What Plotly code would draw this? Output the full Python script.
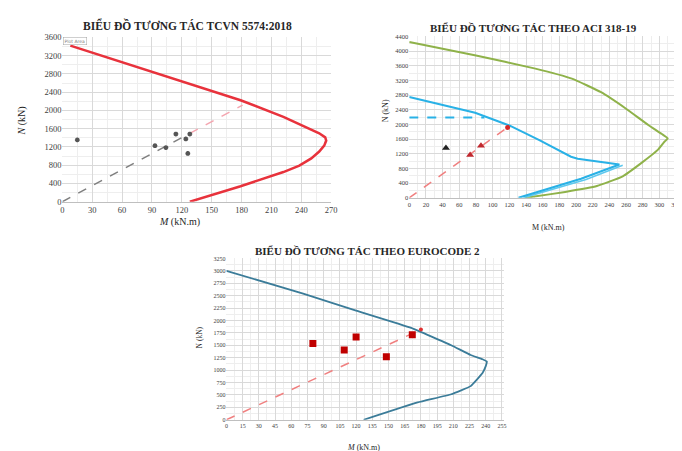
import plotly.graph_objects as go

W, H = 682, 451

# ---------------- Chart 1: TCVN 5574:2018 ----------------
tcvn_curve_M = [8, 96, 179, 222, 245, 258, 264, 265, 263, 258, 250, 238, 222, 179, 128]
tcvn_curve_N = [3420, 2804, 2224, 1860, 1640, 1500, 1410, 1340, 1230, 1100, 950, 790, 650, 339, 0]
tcvn_pts_M = [15, 93, 104, 114, 124, 128, 126]
tcvn_pts_N = [1355, 1228, 1186, 1482, 1376, 1482, 1059]
tcvn_ray_gray_M = [0, 128]
tcvn_ray_gray_N = [0, 1497]
tcvn_ray_pink_M = [128, 181]
tcvn_ray_pink_N = [1497, 2117]
tcvn_xticks = list(range(0, 271, 30))
tcvn_yticks = list(range(0, 3601, 400))

# ---------------- Chart 2: ACI 318-19 ----------------
aci_green_M = [0, 80, 150, 195, 230, 260, 287, 303, 310, 306, 298, 279, 256, 225, 187, 148, 139]
aci_green_N = [4250, 3880, 3530, 3250, 2880, 2430, 1980, 1740, 1620, 1530, 1307, 960, 587, 320, 160, 27, 0]
aci_blue_M = [0, 79, 120, 156, 194, 202, 252, 206, 131]
aci_blue_N = [2750, 2320, 1973, 1573, 1120, 1067, 907, 520, 0]
aci_blue2_M = [256, 212, 137]
aci_blue2_N = [890, 500, 0]
aci_cap_M = [0, 90]
aci_cap_N = [2187, 2187]
aci_ray_M = [0, 118]
aci_ray_N = [0, 1920]
aci_tri_red_M = [73, 86]
aci_tri_red_N = [1170, 1420]
aci_tri_black_M = [44]
aci_tri_black_N = [1360]
aci_end_M = [118]
aci_end_N = [1920]
aci_xticks = list(range(0, 321, 20))
aci_yticks = list(range(0, 4401, 400))

# ---------------- Chart 3: Eurocode 2 ----------------
ec_curve_M = [0, 71, 120, 171, 208, 226, 237, 241, 240, 237, 226, 208, 177, 127]
ec_curve_N = [3000, 2540, 2200, 1852, 1502, 1304, 1220, 1172, 1080, 943, 678, 514, 350, 0]
ec_pts_M = [80, 109, 120, 148, 172]
ec_pts_N = [1535, 1403, 1666, 1271, 1713]
ec_ray_M = [0, 180]
ec_ray_N = [0, 1818]
ec_end_M = [180]
ec_end_N = [1818]
ec_xticks = list(range(0, 256, 15))
ec_yticks = list(range(0, 3251, 250))

SERIF = "Liberation Serif"
GRID = "#d9d9d9"
MINOR = "#eeeeee"

fig = go.Figure()

# Chart 1 traces
fig.add_trace(go.Scatter(x=tcvn_ray_gray_M, y=tcvn_ray_gray_N, mode="lines",
                         line=dict(color="#7f7f7f", width=1.5, dash="dash"), xaxis="x", yaxis="y"))
fig.add_trace(go.Scatter(x=tcvn_ray_pink_M, y=tcvn_ray_pink_N, mode="lines",
                         line=dict(color="#f4a6b0", width=1.5, dash="dash"), xaxis="x", yaxis="y"))
fig.add_trace(go.Scatter(x=tcvn_curve_M, y=tcvn_curve_N, mode="lines",
                         line=dict(color="#e8323c", width=2.5),
                         xaxis="x", yaxis="y"))
fig.add_trace(go.Scatter(x=tcvn_pts_M, y=tcvn_pts_N, mode="markers",
                         marker=dict(symbol="asterisk-open", size=4, color="#555555",
                                     line=dict(color="#555555", width=1.5)),
                         xaxis="x", yaxis="y"))

# Chart 2 traces
fig.add_trace(go.Scatter(x=aci_green_M, y=aci_green_N, mode="lines",
                         line=dict(color="#8fb24a", width=2, shape="spline", smoothing=0.4),
                         xaxis="x2", yaxis="y2"))
fig.add_trace(go.Scatter(x=aci_blue2_M, y=aci_blue2_N, mode="lines",
                         line=dict(color="#5ec8ee", width=1.5), xaxis="x2", yaxis="y2"))
fig.add_trace(go.Scatter(x=aci_blue_M, y=aci_blue_N, mode="lines",
                         line=dict(color="#29b1e6", width=2), xaxis="x2", yaxis="y2"))
fig.add_trace(go.Scatter(x=aci_cap_M, y=aci_cap_N, mode="lines",
                         line=dict(color="#29b1e6", width=2, dash="dash"), xaxis="x2", yaxis="y2"))
fig.add_trace(go.Scatter(x=aci_ray_M, y=aci_ray_N, mode="lines",
                         line=dict(color="#f08080", width=1.5, dash="dash"), xaxis="x2", yaxis="y2"))
fig.add_trace(go.Scatter(x=aci_tri_red_M, y=aci_tri_red_N, mode="markers",
                         marker=dict(symbol="triangle-up", size=7, color="#c0292f"),
                         xaxis="x2", yaxis="y2"))
fig.add_trace(go.Scatter(x=aci_tri_black_M, y=aci_tri_black_N, mode="markers",
                         marker=dict(symbol="triangle-up", size=7, color="#222222"),
                         xaxis="x2", yaxis="y2"))
fig.add_trace(go.Scatter(x=aci_end_M, y=aci_end_N, mode="markers",
                         marker=dict(symbol="circle", size=5, color="#d62728"),
                         xaxis="x2", yaxis="y2"))

# Chart 3 traces
fig.add_trace(go.Scatter(x=ec_ray_M, y=ec_ray_N, mode="lines",
                         line=dict(color="#f08080", width=1.5, dash="dash"), xaxis="x3", yaxis="y3"))
fig.add_trace(go.Scatter(x=ec_curve_M, y=ec_curve_N, mode="lines",
                         line=dict(color="#3b7c99", width=1.8, shape="spline", smoothing=0.3),
                         xaxis="x3", yaxis="y3"))
fig.add_trace(go.Scatter(x=ec_pts_M, y=ec_pts_N, mode="markers",
                         marker=dict(symbol="square", size=7, color="#c00000"),
                         xaxis="x3", yaxis="y3"))
fig.add_trace(go.Scatter(x=ec_end_M, y=ec_end_N, mode="markers",
                         marker=dict(symbol="circle", size=4, color="#e03030"),
                         xaxis="x3", yaxis="y3"))


def xax(domain, anchor, ticks, rng, size, minor):
    return dict(domain=domain, anchor=anchor, range=rng, tickvals=ticks,
                showgrid=True, gridcolor=GRID, gridwidth=1, zeroline=False,
                showline=True, linecolor="#bfbfbf", ticks="",
                tickfont=dict(family=SERIF, size=size, color="#404040"),
                minor=dict(dtick=minor, showgrid=True, gridcolor=MINOR), fixedrange=True)


def yax(domain, anchor, ticks, rng, size, minor):
    return dict(domain=domain, anchor=anchor, range=rng, tickvals=ticks,
                showgrid=True, gridcolor=GRID, gridwidth=1, zeroline=False,
                showline=False, ticks="",
                tickfont=dict(family=SERIF, size=size, color="#404040"),
                minor=dict(dtick=minor, showgrid=True, gridcolor=MINOR), fixedrange=True)


fig.update_layout(
    width=W, height=H, margin=dict(l=0, r=0, t=0, b=0),
    paper_bgcolor="white", plot_bgcolor="white", showlegend=False,
    xaxis=xax([53 / W, 325 / W], "y", tcvn_xticks, [0, 270], 8.5, 15),
    yaxis=yax([1 - 193 / H, 1 - 25 / H], "x", tcvn_yticks, [0, 3600], 8.5, 200),
    xaxis2=xax([404 / W, 674 / W], "y2", aci_xticks, [0, 320], 6.5, 10),
    yaxis2=yax([1 - 189 / H, 1 - 24 / H], "x2", aci_yticks, [0, 4400], 6.5, 200),
    xaxis3=xax([219 / W, 500 / W], "y3", ec_xticks, [0, 257], 6, 7.5),
    yaxis3=yax([1 - 416 / H, 1 - 251 / H], "x3", ec_yticks, [0, 3250], 6, 125),
)

ann = [
    dict(text="<b>BIỂU ĐỒ TƯƠNG TÁC TCVN 5574:2018</b>", x=180 / W, y=1 - 12 / H, size=11.5),
    dict(text="<b>BIỂU ĐỒ TƯƠNG TÁC THEO ACI 318-19</b>", x=530 / W, y=1 - 15 / H, size=11),
    dict(text="<b>BIỂU ĐỒ TƯƠNG TÁC THEO EUROCODE 2</b>", x=362 / W, y=1 - 243 / H, size=11),
    dict(text="<i>M</i> (kN.m)", x=172 / W, y=1 - 214 / H, size=10),
    dict(text="M (kN.m)", x=545 / W, y=1 - 219 / H, size=8),
    dict(text="<i>M</i> (kN.m)", x=358 / W, y=1 - 444 / H, size=8),
]
annotations = []
for a in ann:
    annotations.append(dict(text=a["text"], x=a["x"], y=a["y"], xref="paper", yref="paper",
                            showarrow=False, xanchor="center", yanchor="middle",
                            font=dict(family=SERIF, size=a["size"], color="#262626")))
for txt, x, y, s in [("<i>N</i> (kN)", 12, 110, 10), ("N (kN)", 380, 100, 8), ("N (kN)", 192, 332, 7.5)]:
    annotations.append(dict(text=txt, x=x / W, y=1 - y / H, xref="paper", yref="paper",
                            showarrow=False, textangle=-90, xanchor="center", yanchor="middle",
                            font=dict(family=SERIF, size=s, color="#262626")))
annotations.append(dict(text="Plot Area", x=54 / W, y=1 - 29 / H, xref="paper", yref="paper",
                        showarrow=False, xanchor="left", yanchor="middle",
                        font=dict(family="DejaVu Sans", size=4.5, color="#808080"),
                        bgcolor="white", bordercolor="#a0a0a0", borderwidth=0.5, borderpad=1))
fig.update_layout(annotations=annotations)

fig.write_html("out.html")
